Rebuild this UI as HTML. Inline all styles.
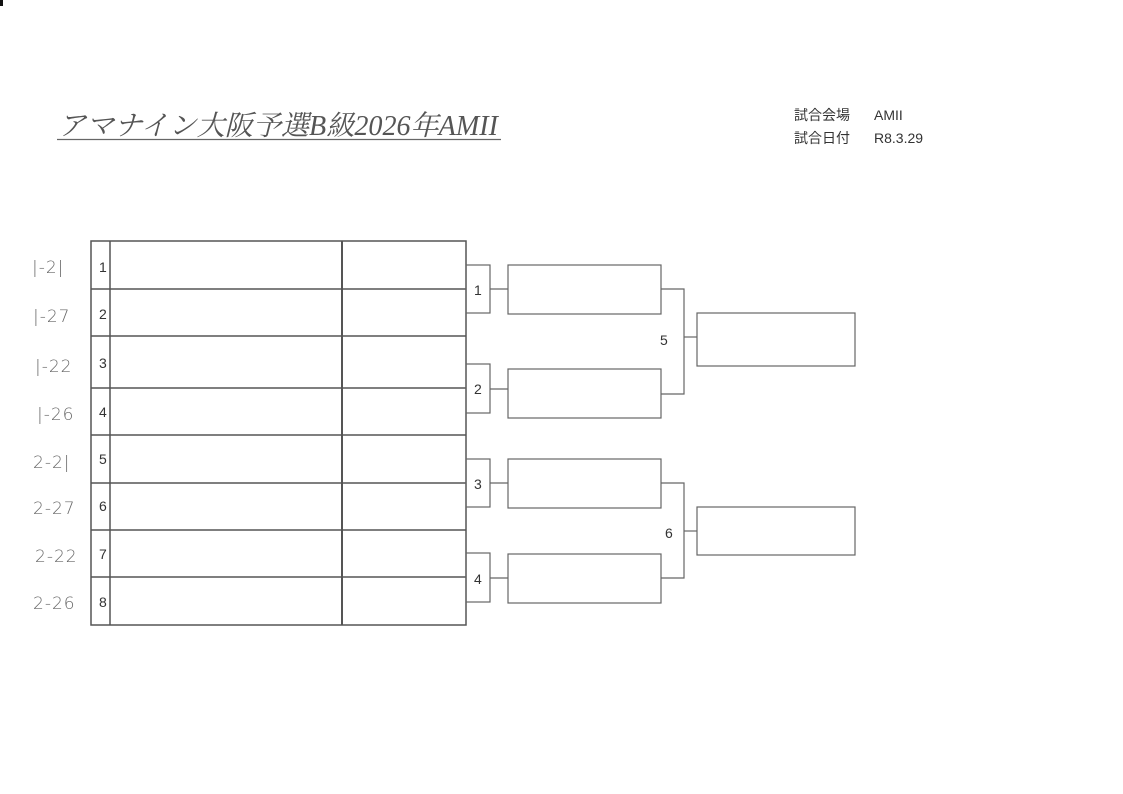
<!DOCTYPE html>
<html><head><meta charset="utf-8"><style>
html,body{margin:0;padding:0;background:#fff;}
svg{display:block;}
</style></head><body>
<svg width="1123" height="794" viewBox="0 0 1123 794" xmlns="http://www.w3.org/2000/svg">
<rect width="1123" height="794" fill="#fff"/>
<rect x="0" y="0" width="3" height="6" fill="#111"/>
<text x="58" y="135" font-family="Liberation Serif, Noto Serif CJK SC, serif" font-style="italic" font-size="28" fill="#555" textLength="440" lengthAdjust="spacingAndGlyphs">アマナイン大阪予選B級2026年AMII</text>
<line x1="57" y1="139.5" x2="501" y2="139.5" stroke="#666" stroke-width="1.2"/>
<g font-family="Liberation Sans, Noto Sans CJK JP, sans-serif" font-size="14" fill="#333">
<text x="794" y="120">試合会場</text><text x="874" y="120">AMII</text>
<text x="794" y="143">試合日付</text><text x="874" y="143">R8.3.29</text>
</g>
<g fill="none" stroke="#555" stroke-width="1.5">
<rect x="91" y="241" width="375" height="384"/>
<line x1="110" y1="241" x2="110" y2="625"/>
<line x1="342" y1="241" x2="342" y2="625" stroke-width="2"/>
<line x1="91" y1="289" x2="466" y2="289"/>
<line x1="91" y1="336" x2="466" y2="336"/>
<line x1="91" y1="388" x2="466" y2="388"/>
<line x1="91" y1="435" x2="466" y2="435"/>
<line x1="91" y1="483" x2="466" y2="483"/>
<line x1="91" y1="530" x2="466" y2="530"/>
<line x1="91" y1="577" x2="466" y2="577"/>
</g>
<g fill="none" stroke="#666" stroke-width="1.2">
<rect x="466" y="265" width="24" height="48"/>
<rect x="466" y="364" width="24" height="49"/>
<rect x="466" y="459" width="24" height="48"/>
<rect x="466" y="553" width="24" height="49"/>
<line x1="490" y1="289" x2="508" y2="289"/>
<line x1="490" y1="389" x2="508" y2="389"/>
<line x1="490" y1="483" x2="508" y2="483"/>
<line x1="490" y1="578" x2="508" y2="578"/>
<rect x="508" y="265" width="153" height="49"/>
<rect x="508" y="369" width="153" height="49"/>
<rect x="508" y="459" width="153" height="49"/>
<rect x="508" y="554" width="153" height="49"/>
<polyline points="661,289 684,289 684,394 661,394"/>
<line x1="684" y1="337" x2="697" y2="337"/>
<polyline points="661,483 684,483 684,578 661,578"/>
<line x1="684" y1="531" x2="697" y2="531"/>
<rect x="697" y="313" width="158" height="53"/>
<rect x="697" y="507" width="158" height="48"/>
</g>
<g font-family="Liberation Sans, sans-serif" font-size="14" fill="#333">
<text x="99" y="272">1</text><text x="99" y="319">2</text><text x="99" y="368">3</text><text x="99" y="417">4</text>
<text x="99" y="464">5</text><text x="99" y="511">6</text><text x="99" y="559">7</text><text x="99" y="607">8</text>
<text x="474" y="295">1</text><text x="474" y="394">2</text><text x="474" y="489">3</text><text x="474" y="584">4</text>
<text x="660" y="345">5</text><text x="665" y="538">6</text>
</g>
<g font-family="DejaVu Sans, sans-serif" font-weight="200" font-size="17" fill="#666" letter-spacing="1">
<text x="32" y="273">|-2|</text>
<text x="33" y="322">|-27</text>
<text x="35" y="372">|-22</text>
<text x="37" y="420">|-26</text>
<text x="33" y="468">2-2|</text>
<text x="33" y="514">2-27</text>
<text x="35" y="562">2-22</text>
<text x="33" y="609">2-26</text>
</g>
</svg>
</body></html>
